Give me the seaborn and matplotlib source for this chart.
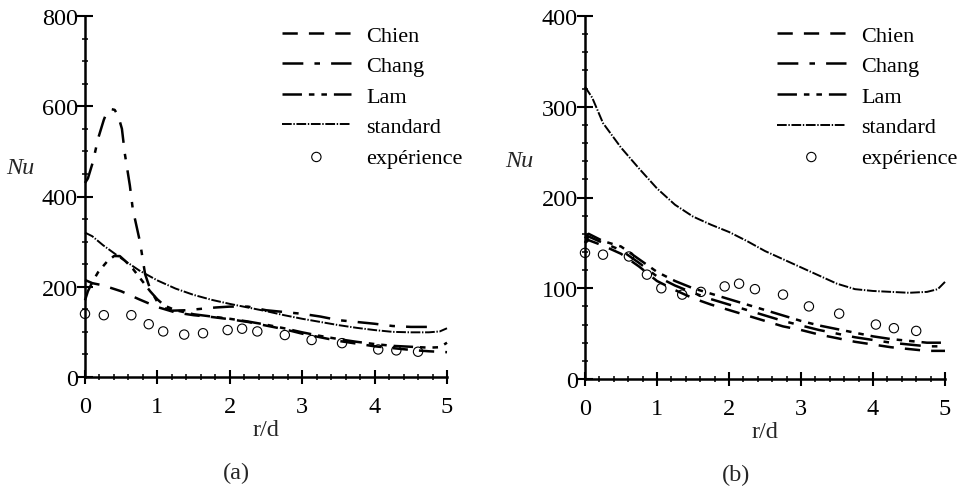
import numpy as np
import pandas as pd
import matplotlib
matplotlib.use("Agg")
import matplotlib.pyplot as plt
import seaborn as sns
from matplotlib.ticker import MultipleLocator

# ---------------- data: panel (a) ----------------
x_chang_a = [0, 0.04, 0.11, 0.18, 0.26, 0.3, 0.35, 0.41, 0.46, 0.51, 0.55, 0.62, 0.66, 0.76, 0.83,
             0.9, 0.99, 1.08, 1.2, 1.4, 1.6, 1.8, 2.0, 2.25, 2.5, 2.75, 3.0, 3.25, 3.5, 3.75,
             4.0, 4.25, 4.5, 4.8]
chang_a = [430, 440, 477, 528, 570, 586, 594, 592, 578, 550, 495, 424, 372, 299, 228,
           195, 169, 154, 147, 148, 151, 154, 156, 156, 148, 144, 140, 134, 126, 122,
           118, 113, 111, 111]

x_lam_a = [0, 0.04, 0.1, 0.18, 0.3, 0.4, 0.48, 0.55, 0.66, 0.79, 0.9, 1.0, 1.1, 1.25, 1.5,
           1.75, 2.0, 2.25, 2.5, 2.75, 3.0, 3.25, 3.5, 3.75, 4.0, 4.25, 4.5, 4.75, 4.9, 5.0]
lam_a = [170, 190, 210, 232, 255, 268, 268, 258, 240, 213, 190, 172, 158, 148, 139,
         134, 129, 123, 116, 108, 99, 91, 84, 78, 73, 69, 67, 65, 66, 76]

x_chien_a = [0, 0.1, 0.25, 0.5, 0.75, 1.0, 1.25, 1.5, 1.75, 2.0, 2.25, 2.5, 2.75, 3.0, 3.25,
             3.5, 3.75, 4.0, 4.25, 4.5, 4.75, 5.0]
chien_a = [215, 208, 203, 190, 172, 155, 143, 137, 133, 128, 122, 114, 106, 96, 88,
           80, 74, 68, 64, 60, 57, 55]

x_std_a = [0, 0.1, 0.25, 0.5, 0.75, 1.0, 1.25, 1.5, 1.75, 2.0, 2.25, 2.5, 2.75, 3.0, 3.25,
           3.5, 3.75, 4.0, 4.25, 4.5, 4.75, 4.9, 5.0]
std_a = [320, 312, 292, 263, 236, 214, 196, 182, 171, 162, 154, 146, 137, 129, 122,
         115, 109, 104, 100, 99, 99, 101, 108]

x_exp_a = [0, 0.26, 0.64, 0.88, 1.08, 1.37, 1.63, 1.97, 2.17, 2.38, 2.76, 3.13, 3.55, 4.05, 4.3, 4.6]
exp_a = [140, 137, 137, 117, 101, 94, 97, 104, 107, 101, 93, 82, 75, 61, 59, 56]

# ---------------- data: panel (b) ----------------
x_std_b = [0, 0.1, 0.25, 0.5, 0.75, 1.0, 1.25, 1.5, 1.75, 2.0, 2.25, 2.5, 2.75, 3.0, 3.25,
           3.5, 3.75, 4.0, 4.25, 4.5, 4.75, 4.9, 5.0]
std_b = [322, 310, 282, 255, 232, 210, 192, 179, 170, 162, 152, 141, 132, 123, 114,
         105, 99, 97, 96, 95, 96, 99, 107]

x_mod_b = [0, 0.05, 0.25, 0.5, 0.75, 1.0, 1.25, 1.5, 1.75, 2.0, 2.25, 2.5, 2.75, 3.0, 3.25,
           3.5, 3.75, 4.0, 4.25, 4.5, 4.75, 5.0]
lam_b = [155, 160, 152, 146, 132, 118, 108, 100, 94, 88, 82, 76, 70, 64, 59, 55, 51, 47, 44, 42, 40, 40]
chang_b = [150, 157, 150, 142, 128, 113, 103, 95, 88, 82, 76, 70, 64, 59, 54, 50, 46, 43, 40, 38, 36, 36]
chien_b = [150, 153, 147, 138, 124, 108, 98, 89, 82, 76, 70, 64, 58, 54, 49, 45, 41, 38, 35, 33, 31, 31]

x_exp_b = [0, 0.25, 0.61, 0.86, 1.06, 1.35, 1.61, 1.94, 2.14, 2.36, 2.75, 3.11, 3.53, 4.04, 4.29, 4.6]
exp_b = [139, 137, 135, 115, 100, 93, 96, 102, 105, 99, 93, 80, 72, 60, 56, 53]

labels = ["Chien", "Chang", "Lam", "standard", "expérience"]
x_ticks = [0, 1, 2, 3, 4, 5]

# ---------------- styling ----------------
sns.set_style("ticks")
plt.rcParams["font.family"] = ["Liberation Serif", "DejaVu Serif"]
plt.rcParams["lines.scale_dashes"] = False
FS = 16
TFS = 17.5

ls_chien = (0, (11, 8))
ls_chang = (0, (15, 8, 4, 8))
ls_lam = (0, (14, 5, 4, 5, 4, 5))
ls_std = (0, (7, 1.2, 1, 1.2))

fig = plt.figure(figsize=(9.64, 4.89), dpi=100)
ax_a = fig.add_axes([85 / 964, 1 - 378 / 489, 362 / 964, 361 / 489])
ax_b = fig.add_axes([585 / 964, 1 - 380 / 489, 360 / 964, 363 / 489])


def draw(ax, series, xexp, yexp, ymax, ymaj, ymin, leg_x):
    for (xs, ys, lab, ls, lw) in series:
        sns.lineplot(x=xs, y=ys, ax=ax, color="black", linestyle=ls, linewidth=lw,
                     label=lab, clip_on=False)
    sns.scatterplot(x=xexp, y=yexp, ax=ax, marker="o", s=45, facecolor="none",
                    edgecolor="black", linewidth=0.8, label=labels[4], clip_on=False)
    ax.set_xlim(0, 5)
    ax.set_ylim(0, ymax)
    ax.set_xticks(x_ticks)
    ax.xaxis.set_minor_locator(MultipleLocator(0.2))
    ax.yaxis.set_major_locator(MultipleLocator(ymaj))
    ax.yaxis.set_minor_locator(MultipleLocator(ymin))
    for s in ["top", "right"]:
        ax.spines[s].set_visible(False)
    for s in ["left", "bottom"]:
        ax.spines[s].set_linewidth(1.8)
        ax.spines[s].set_color("black")
    ax.tick_params(axis="y", which="major", direction="inout", length=12, width=1.5,
                   labelsize=TFS, pad=-1, colors="black")
    ax.tick_params(axis="y", which="minor", direction="inout", length=5, width=1.3)
    ax.tick_params(axis="x", which="major", direction="inout", length=10, width=1.5,
                   labelsize=TFS, pad=9, colors="black")
    ax.tick_params(axis="x", which="minor", direction="inout", length=4, width=1.3)
    ax.set_xlabel("r/d", fontsize=TFS, labelpad=1)
    ax.set_ylabel("Nu", fontsize=TFS, style="italic", rotation=0)
    leg = ax.legend(loc="upper left", bbox_to_anchor=(leg_x, 0.975), frameon=False,
                    fontsize=FS, handlelength=3.1, handletextpad=0.7, labelspacing=0.45,
                    borderpad=0, borderaxespad=0, scatterpoints=1)
    for t in leg.get_texts():
        t.set_color("black")


series_a = [
    (x_chien_a, chien_a, labels[0], ls_chien, 1.8),
    (x_chang_a, chang_a, labels[1], ls_chang, 1.8),
    (x_lam_a, lam_a, labels[2], ls_lam, 1.8),
    (x_std_a, std_a, labels[3], ls_std, 1.4),
]
series_b = [
    (x_mod_b, chien_b, labels[0], ls_chien, 1.8),
    (x_mod_b, chang_b, labels[1], ls_chang, 1.8),
    (x_mod_b, lam_b, labels[2], ls_lam, 1.8),
    (x_std_b, std_b, labels[3], ls_std, 1.4),
]

draw(ax_a, series_a, x_exp_a, exp_a, 800, 200, 50, 0.544)
draw(ax_b, series_b, x_exp_b, exp_b, 400, 100, 20, 0.533)

ax_a.yaxis.set_label_coords(-0.18, 0.55)
ax_b.yaxis.set_label_coords(-0.183, 0.573)

fig.text(236 / 964, 1 - 473 / 489, "(a)", fontsize=TFS, ha="center", va="center")
fig.text(736 / 964, 1 - 475 / 489, "(b)", fontsize=TFS, ha="center", va="center")

fig.savefig("out.png", dpi=100)
